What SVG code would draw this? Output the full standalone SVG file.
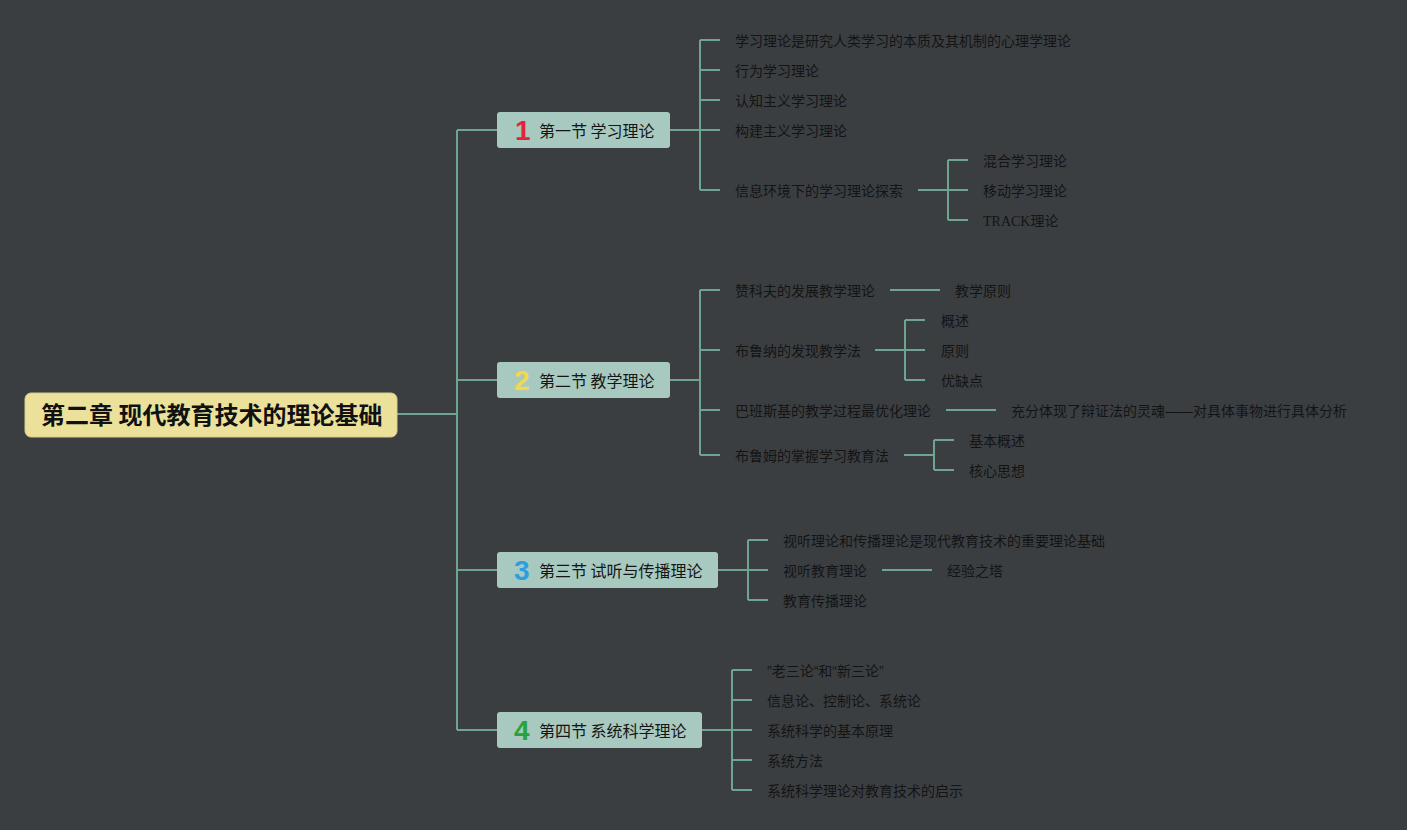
<svg xmlns="http://www.w3.org/2000/svg" width="1407" height="830" viewBox="0 0 1407 830">
<defs>
<style>
.bg{fill:#3a3e41}
.ln{fill:none;stroke:#6ea492;stroke-width:2}
.root{fill:#ebe19b;stroke:#d8cd86;stroke-width:1}
.sec{fill:#a8c9bf}
.rt{font-family:"Noto Sans CJK SC","Liberation Sans",sans-serif;font-size:24px;font-weight:bold;fill:#111}
.st{font-family:"Noto Sans CJK SC","Liberation Sans",sans-serif;font-size:16px;fill:#151515}
.lf{font-family:"Liberation Sans","Noto Sans CJK SC",sans-serif;font-size:14px;fill:#141414}
.num{font-family:"Liberation Sans","DejaVu Sans",sans-serif;font-size:28px;font-weight:bold}
</style>
</defs>
<rect class="bg" x="0" y="0" width="1407" height="830"/>
<g id="connectors">
<path class="ln" d="M397 414H457M457 130V730M457 130H497M457 380H497M457 570H497M457 730H497"/>
<path class="ln" d="M670 130H700M700 40V190M700 40H720M700 70H720M700 100H720M700 130H720M700 190H720"/>
<path class="ln" d="M918 190H948M948 160V220M948 160H968M948 190H968M948 220H968"/>
<path class="ln" d="M670 380H700M700 290V455M700 290H720M700 350H720M700 410H720M700 455H720"/>
<path class="ln" d="M890 290H940"/>
<path class="ln" d="M875 350H905M905 320V380M905 320H925M905 350H925M905 380H925"/>
<path class="ln" d="M946 410H996"/>
<path class="ln" d="M904 455H934M934 440V470M934 440H954M934 470H954"/>
<path class="ln" d="M718 570H748M748 540V600M748 540H768M748 570H768M748 600H768"/>
<path class="ln" d="M882 570H932"/>
<path class="ln" d="M702 730H732M732 670V790M732 670H752M732 700H752M732 730H752M732 760H752M732 790H752"/>
</g>
<g id="root">
<rect class="root" x="25" y="393" width="372" height="44" rx="6"/>
<text class="rt" x="41" y="424">第二章 现代教育技术的理论基础</text>
</g>
<g id="sec1">
<rect class="sec" x="497" y="112" width="173" height="36" rx="3"/>
<text class="num" x="515" y="140" fill="#e0243a">1</text>
<text class="st" x="539" y="137">第一节 学习理论</text>
</g>
<g id="sec2">
<rect class="sec" x="497" y="362" width="173" height="36" rx="3"/>
<text class="num" x="514" y="390" fill="#f3d84a">2</text>
<text class="st" x="539" y="387">第二节 教学理论</text>
</g>
<g id="sec3">
<rect class="sec" x="497" y="552" width="221" height="36" rx="3"/>
<text class="num" x="514" y="580" fill="#2b9fe0">3</text>
<text class="st" x="539" y="577">第三节 试听与传播理论</text>
</g>
<g id="sec4">
<rect class="sec" x="497" y="712" width="205" height="36" rx="3"/>
<text class="num" x="514" y="740" fill="#27a33a">4</text>
<text class="st" x="539" y="737">第四节 系统科学理论</text>
</g>
<g id="s1-leaves">
<text class="lf" x="735" y="46">学习理论是研究人类学习的本质及其机制的心理学理论</text>
<text class="lf" x="735" y="76">行为学习理论</text>
<text class="lf" x="735" y="106">认知主义学习理论</text>
<text class="lf" x="735" y="136">构建主义学习理论</text>
<text class="lf" x="735" y="196">信息环境下的学习理论探索</text>
<text class="lf" x="983" y="166">混合学习理论</text>
<text class="lf" x="983" y="196">移动学习理论</text>
<text class="lf" x="983" y="226"><tspan font-family="Liberation Serif,serif">TRACK</tspan>理论</text>
</g>
<g id="s2-leaves">
<text class="lf" x="735" y="296">赞科夫的发展教学理论</text>
<text class="lf" x="955" y="296">教学原则</text>
<text class="lf" x="735" y="356">布鲁纳的发现教学法</text>
<text class="lf" x="941" y="326">概述</text>
<text class="lf" x="941" y="356">原则</text>
<text class="lf" x="941" y="386">优缺点</text>
<text class="lf" x="735" y="416">巴班斯基的教学过程最优化理论</text>
<text class="lf" x="1011" y="416">充分体现了辩证法的灵魂——对具体事物进行具体分析</text>
<text class="lf" x="735" y="461">布鲁姆的掌握学习教育法</text>
<text class="lf" x="969" y="446">基本概述</text>
<text class="lf" x="969" y="476">核心思想</text>
</g>
<g id="s3-leaves">
<text class="lf" x="783" y="546">视听理论和传播理论是现代教育技术的重要理论基础</text>
<text class="lf" x="783" y="576">视听教育理论</text>
<text class="lf" x="947" y="576">经验之塔</text>
<text class="lf" x="783" y="606">教育传播理论</text>
</g>
<g id="s4-leaves">
<text class="lf" x="767" y="676">”老三论“和“新三论”</text>
<text class="lf" x="767" y="706">信息论、控制论、系统论</text>
<text class="lf" x="767" y="736">系统科学的基本原理</text>
<text class="lf" x="767" y="766">系统方法</text>
<text class="lf" x="767" y="796">系统科学理论对教育技术的启示</text>
</g>
</svg>
